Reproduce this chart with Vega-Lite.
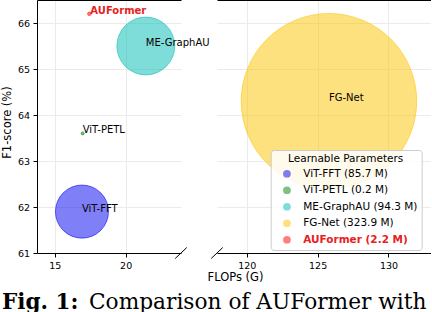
{
  "$schema": "https://vega.github.io/schema/vega-lite/v6.json",
  "padding": {"left": 1, "top": 0, "right": 0, "bottom": 0},
  "bounds": "flush",
  "spacing": 36,
  "datasets": {
    "pts": [
      {"Model": "ViT-FFT", "FLOPs": 16.92, "F1": 61.9, "Params": 85.7, "Legend": "ViT-FFT (85.7 M)"},
      {"Model": "ViT-PETL", "FLOPs": 16.97, "F1": 63.6, "Params": 0.2, "Legend": "ViT-PETL (0.2 M)"},
      {"Model": "ME-GraphAU", "FLOPs": 21.42, "F1": 65.5, "Params": 94.3, "Legend": "ME-GraphAU (94.3 M)"},
      {"Model": "FG-Net", "FLOPs": 125.8, "F1": 64.3, "Params": 323.9, "Legend": "FG-Net (323.9 M)"},
      {"Model": "AUFormer", "FLOPs": 17.44, "F1": 66.2, "Params": 2.2, "Legend": "AUFormer (2.2 M)"}
    ],
    "brk": [
      {"x": 23.49, "x2": 24.31, "y": 60.88, "y2": 61.12},
      {"x": 117.49, "x2": 118.31, "y": 60.88, "y2": 61.12}
    ]
  },
  "hconcat": [
    {
      "width": 144,
      "height": 253,
      "layer": [
        {
          "data": {"name": "pts"},
          "transform": [{"filter": "datum.FLOPs < 50"}],
          "mark": {"type": "circle", "fillOpacity": 0.5, "strokeOpacity": 0.55, "strokeWidth": 1, "opacity": 1},
          "encoding": {
            "x": {"field": "FLOPs", "type": "quantitative",
              "scale": {"domain": [13.75, 23.9], "nice": false, "zero": false},
              "axis": {"orient": "bottom", "values": [15, 20], "grid": true,
                "title": "Fig. 1:", "titleFont": "DejaVu Serif", "titleFontSize": 21.5, "titleFontWeight": "bold",
                "titleX": -35.5, "titleY": 55.5, "titleAlign": "left", "titleBaseline": "alphabetic"}},
            "y": {"field": "F1", "type": "quantitative",
              "scale": {"domain": [61, 66.5], "nice": false, "zero": false},
              "axis": {"orient": "left", "values": [61, 62, 63, 64, 65, 66], "grid": true,
                "title": "F1-score (%)", "titleX": -30, "titleY": 122, "titleBaseline": "middle", "titleAlign": "center", "titleAngle": 270}},
            "color": {"field": "Legend", "type": "nominal",
              "scale": {"domain": ["ViT-FFT (85.7 M)", "ViT-PETL (0.2 M)", "ME-GraphAU (94.3 M)", "FG-Net (323.9 M)", "AUFormer (2.2 M)"],
                "range": ["#0000f0", "#008000", "#00bbb3", "#fbc300", "#ff0000"]}, "legend": null},
            "stroke": {"field": "Legend", "type": "nominal",
              "scale": {"domain": ["ViT-FFT (85.7 M)", "ViT-PETL (0.2 M)", "ME-GraphAU (94.3 M)", "FG-Net (323.9 M)", "AUFormer (2.2 M)"],
                "range": ["#0000f0", "#008000", "#00bbb3", "#fbc300", "#ff0000"]}, "legend": null},
            "size": {"field": "Params", "type": "quantitative",
              "scale": {"type": "pow", "exponent": 1.8, "domain": [0, 323.9], "range": [9, 30790]}, "legend": null}
          }
        },
        {
          "data": {"name": "pts"},
          "transform": [{"filter": "datum.FLOPs < 50 && datum.Model != 'AUFormer'"}],
          "mark": {"type": "text", "align": "left", "baseline": "alphabetic", "fontSize": 10, "color": "black"},
          "encoding": {
            "x": {"field": "FLOPs", "type": "quantitative", "axis": null},
            "y": {"field": "F1", "type": "quantitative"},
            "text": {"field": "Model"}
          }
        },
        {
          "data": {"name": "pts"},
          "transform": [{"filter": "datum.Model == 'AUFormer'"}],
          "mark": {"type": "text", "align": "left", "baseline": "alphabetic", "fontSize": 10, "fontWeight": "bold", "color": "#e62222", "dx": 1},
          "encoding": {
            "x": {"field": "FLOPs", "type": "quantitative", "axis": null},
            "y": {"field": "F1", "type": "quantitative"},
            "text": {"field": "Model"}
          }
        },
        {
          "data": {"name": "brk"},
          "transform": [{"filter": "datum.x < 50"}],
          "mark": {"type": "rule", "color": "black", "strokeWidth": 1},
          "encoding": {
            "x": {"field": "x", "type": "quantitative",
              "axis": {"orient": "top", "labels": false, "ticks": false, "grid": false, "domain": true,
                "title": "Comparison of AUFormer with", "titleFont": "DejaVu Serif", "titleFontSize": 21.7, "titleFontWeight": "normal",
                "titleX": 51.5, "titleY": 308.5, "titleAlign": "left", "titleBaseline": "alphabetic"}},
            "x2": {"field": "x2"},
            "y": {"field": "y", "type": "quantitative"},
            "y2": {"field": "y2"}
          }
        }
      ],
      "resolve": {"axis": {"x": "independent"}}
    },
    {
      "width": 214,
      "height": 253,
      "layer": [
        {
          "data": {"name": "pts"},
          "transform": [{"filter": "datum.FLOPs > 50"}],
          "mark": {"type": "circle", "fillOpacity": 0.5, "strokeOpacity": 0.55, "strokeWidth": 1, "opacity": 1},
          "encoding": {
            "x": {"field": "FLOPs", "type": "quantitative",
              "scale": {"domain": [117.9, 133], "nice": false, "zero": false},
              "axis": {"orient": "bottom", "values": [120, 125, 130], "grid": true,
                "title": "FLOPs (G)", "titleX": 18, "titleY": 27.5, "titleAlign": "center", "titleBaseline": "alphabetic"}},
            "y": {"field": "F1", "type": "quantitative",
              "scale": {"domain": [61, 66.5], "nice": false, "zero": false},
              "axis": {"orient": "right", "values": [61, 62, 63, 64, 65, 66], "grid": true, "labels": false, "ticks": false, "domain": true, "title": null}},
            "color": {"field": "Legend", "type": "nominal",
              "scale": {"domain": ["ViT-FFT (85.7 M)", "ViT-PETL (0.2 M)", "ME-GraphAU (94.3 M)", "FG-Net (323.9 M)", "AUFormer (2.2 M)"],
                "range": ["#0000f0", "#008000", "#00bbb3", "#fbc300", "#ff0000"]},
              "legend": {
                "title": "Learnable Parameters",
                "orient": "none", "legendX": 53.7, "legendY": 150,
                "titleAlign": "center", "titleAnchor": "middle",
                "symbolType": "circle", "symbolSize": 60, "symbolOpacity": 0.5, "symbolStrokeWidth": 0,
                "encode": {
                  "labels": {"update": {
                    "fill": {"signal": "datum.label === 'AUFormer (2.2 M)' ? '#e62222' : 'black'"},
                    "fontWeight": {"signal": "datum.label === 'AUFormer (2.2 M)' ? 'bold' : 'normal'"}
                  }}
                }
              }},
            "stroke": {"field": "Legend", "type": "nominal",
              "scale": {"domain": ["ViT-FFT (85.7 M)", "ViT-PETL (0.2 M)", "ME-GraphAU (94.3 M)", "FG-Net (323.9 M)", "AUFormer (2.2 M)"],
                "range": ["#0000f0", "#008000", "#00bbb3", "#fbc300", "#ff0000"]}, "legend": null},
            "size": {"field": "Params", "type": "quantitative",
              "scale": {"type": "pow", "exponent": 1.8, "domain": [0, 323.9], "range": [9, 30790]}, "legend": null}
          }
        },
        {
          "data": {"name": "pts"},
          "transform": [{"filter": "datum.FLOPs > 50"}],
          "mark": {"type": "text", "align": "left", "baseline": "alphabetic", "fontSize": 10, "color": "black"},
          "encoding": {
            "x": {"field": "FLOPs", "type": "quantitative", "axis": null},
            "y": {"field": "F1", "type": "quantitative"},
            "text": {"field": "Model"}
          }
        },
        {
          "data": {"name": "brk"},
          "transform": [{"filter": "datum.x > 50"}],
          "mark": {"type": "rule", "color": "black", "strokeWidth": 1},
          "encoding": {
            "x": {"field": "x", "type": "quantitative",
              "axis": {"orient": "top", "labels": false, "ticks": false, "grid": false, "domain": true, "title": null}},
            "x2": {"field": "x2"},
            "y": {"field": "y", "type": "quantitative"},
            "y2": {"field": "y2"}
          }
        }
      ],
      "resolve": {"axis": {"x": "independent"}}
    }
  ],
  "resolve": {
    "scale": {"color": "independent", "stroke": "independent", "size": "independent"},
    "legend": {"color": "independent"}
  },
  "config": {
    "font": "DejaVu Sans",
    "view": {"stroke": null},
    "axis": {
      "labelFont": "DejaVu Sans", "labelFontSize": 9.5, "labelColor": "black",
      "tickColor": "black", "tickSize": 4, "tickWidth": 1,
      "domainColor": "black", "domainWidth": 1,
      "gridColor": "#ebebeb", "gridWidth": 1,
      "titleFont": "DejaVu Sans", "titleFontSize": 11.5, "titleFontWeight": "normal", "titleColor": "black",
      "labelPadding": 3.5
    },
    "legend": {
      "labelFont": "DejaVu Sans", "labelFontSize": 10.5, "labelColor": "black",
      "titleFont": "DejaVu Sans", "titleFontSize": 10.5, "titleFontWeight": "normal", "titleColor": "black",
      "fillColor": "rgba(255,255,255,0.85)", "strokeColor": "#cccccc", "cornerRadius": 3,
      "padding": 4, "symbolOffset": 7, "labelOffset": 11, "rowPadding": 5.5, "titlePadding": 4
    }
  }
}
